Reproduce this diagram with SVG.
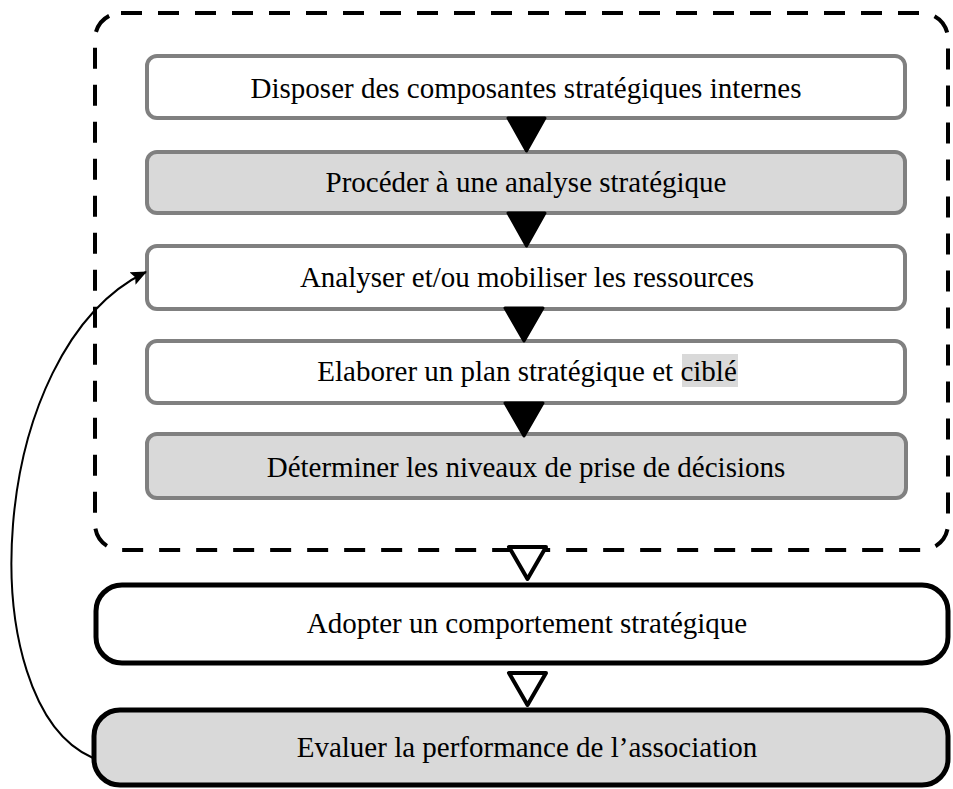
<svg xmlns="http://www.w3.org/2000/svg" width="953" height="789" viewBox="0 0 953 789">
<defs>
<style>
.t{font-family:"Liberation Serif","Times New Roman",serif;font-size:29px;fill:#000;text-anchor:middle}
.gb{stroke:#808080;stroke-width:4}
.bb{stroke:#000;stroke-width:5}
.w{fill:#fff}
.g{fill:#d9d9d9}
.ft{fill:#000;stroke:#000;stroke-width:3;stroke-linejoin:round}
.ht{fill:#fff;stroke:#000;stroke-width:4;stroke-linejoin:round}
</style>
<marker id="ah" viewBox="0 0 16 14" refX="15" refY="7" markerWidth="16" markerHeight="14" markerUnits="userSpaceOnUse" orient="auto">
<path d="M0,0 L16,7 L0,14 L3,7 z" fill="#000"/>
</marker>
</defs>
<rect id="frame" x="95" y="13" width="853" height="537" rx="26" fill="none" stroke="#000" stroke-width="4" stroke-dasharray="21 16"/>
<g id="n1"><rect class="w gb" x="147" y="56" width="758" height="62" rx="10"/><text class="t" x="526" y="98">Disposer des composantes stratégiques internes</text></g>
<g id="n2"><rect class="g gb" x="147" y="152" width="758" height="61" rx="10"/><text class="t" x="526" y="192">Procéder à une analyse stratégique</text></g>
<g id="n3"><rect class="w gb" x="147" y="246" width="758" height="63" rx="10"/><text class="t" x="527" y="287">Analyser et/ou mobiliser les ressources</text></g>
<g id="n4"><rect class="w gb" x="147" y="341" width="758" height="62" rx="10"/><rect x="682" y="354" width="56" height="33" fill="#d9d9d9"/><text class="t" x="527" y="381">Elaborer un plan stratégique et ciblé</text></g>
<g id="n5"><rect class="g gb" x="147" y="434" width="759" height="64" rx="10"/><text class="t" x="526" y="477">Déterminer les niveaux de prise de décisions</text></g>
<g id="n6"><rect class="w bb" x="96" y="585" width="852" height="78" rx="26"/><text class="t" x="527" y="633">Adopter un comportement stratégique</text></g>
<g id="n7"><rect class="g bb" x="94" y="710" width="854" height="75" rx="26"/><text class="t" x="527" y="757">Evaluer la performance de l’association</text></g>
<g id="connectors">
<path class="ft" d="M508,118 L545,118 L526.5,151 z"/>
<path class="ft" d="M508,213 L545,213 L526.5,246 z"/>
<path class="ft" d="M505,308 L543,308 L524,341 z"/>
<path class="ft" d="M505,403 L543,403 L524,436 z"/>
<path class="ht" d="M509,547 L546,547 L527.5,579 z"/>
<path class="ht" d="M509,673 L546,673 L527.5,705 z"/>
<path d="M93,758 C -30,705 -15,350 146,272" fill="none" stroke="#000" stroke-width="2" marker-end="url(#ah)"/>
</g>
</svg>
